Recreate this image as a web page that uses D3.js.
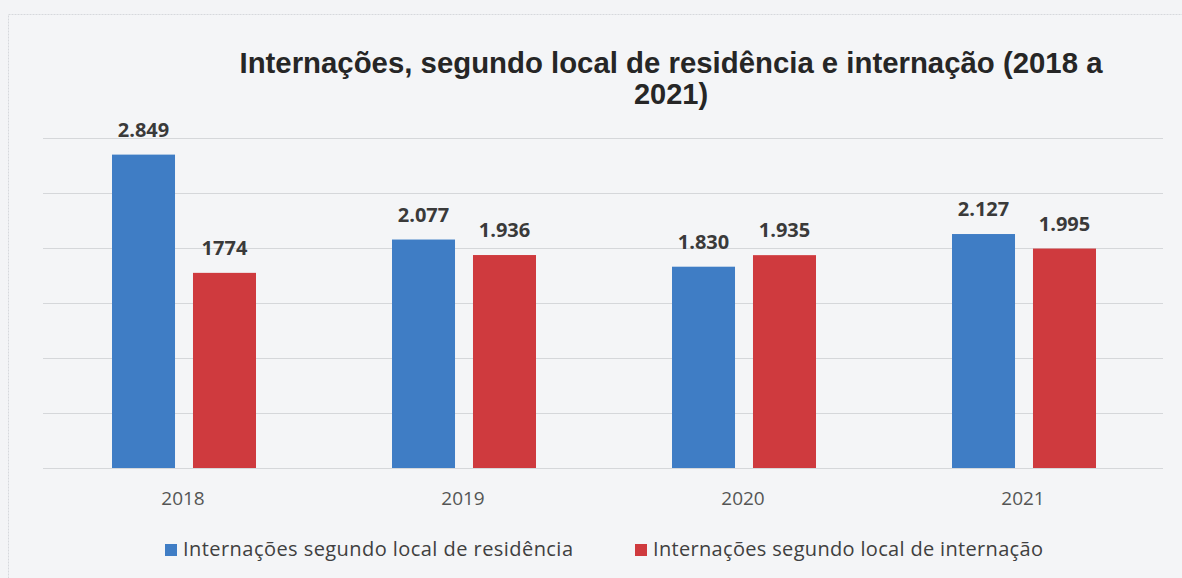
<!DOCTYPE html>
<html>
<head>
<meta charset="utf-8">
<script src="https://cdn.jsdelivr.net/npm/d3@7"></script>
<style>
  html, body { margin: 0; padding: 0; background: #f3f4f6; }
  svg { display: block; }
</style>
</head>
<body>
<div id="chart"></div>
<script>
var years = ['2018', '2019', '2020', '2021'];
var residencia = [2849, 2077, 1830, 2127];
var internacao = [1774, 1936, 1935, 1995];
var residenciaLabels = ['2.849', '2.077', '1.830', '2.127'];
var internacaoLabels = ['1774', '1.936', '1.935', '1.995'];
var seriesNames = ['Internações segundo local de residência', 'Internações segundo local de internação'];
var yTicks = [0, 500, 1000, 1500, 2000, 2500, 3000];

var W = 1182, H = 578;
var m = { left: 43, right: 19, top: 138, bottom: 110 };
var w = W - m.left - m.right, h = H - m.top - m.bottom;
var colors = ['#3f7dc5', '#cf3a3e'];

var svg = d3.select('#chart').append('svg')
  .attr('width', W)
  .attr('height', H);

// scanned page frame
svg.append('rect')
  .attr('x', 8.5).attr('y', 14.5)
  .attr('width', W - 8).attr('height', H)
  .attr('fill', '#f4f5f7')
  .attr('stroke', '#d6d8dc')
  .attr('stroke-dasharray', '2,1');

var g = svg.append('g')
  .attr('transform', 'translate(' + m.left + ',' + m.top + ')');

var xScale = d3.scaleBand().domain(years).range([0, w]);
var yScale = d3.scaleLinear().domain([0, 3000]).range([h, 0]);
var inner = d3.scaleBand().domain([0, 1]).range([0, 144]).paddingInner(0.222);

// gridlines
g.append('g')
  .attr('class', 'grid')
  .call(d3.axisLeft(yScale).tickValues(yTicks).tickSize(-w).tickFormat(''))
  .call(function (s) {
    s.select('.domain').remove();
    s.selectAll('line').attr('stroke', '#d5d7da').attr('stroke-width', 1);
  });

var series = [residencia, internacao];
var labels = [residenciaLabels, internacaoLabels];

function barX(i, si) {
  return xScale(years[i]) + xScale.bandwidth() / 2 - 71 + inner(si);
}

series.forEach(function (vals, si) {
  var grp = g.append('g');
  grp.selectAll('rect')
    .data(vals)
    .enter().append('rect')
    .attr('x', function (d, i) { return barX(i, si); })
    .attr('y', function (d) { return yScale(d); })
    .attr('width', inner.bandwidth())
    .attr('height', function (d) { return h - yScale(d); })
    .attr('fill', colors[si]);

  grp.selectAll('text')
    .data(vals)
    .enter().append('text')
    .attr('x', function (d, i) { return barX(i, si) + inner.bandwidth() / 2; })
    .attr('y', function (d) { return yScale(d) - 18; })
    .attr('text-anchor', 'middle')
    .attr('font-family', 'Open Sans, sans-serif')
    .attr('font-weight', 'bold')
    .attr('font-size', 20)
    .attr('fill', '#3a3a3a')
    .text(function (d, i) { return labels[si][i]; });
});

// x axis labels
g.append('g')
  .attr('transform', 'translate(0,' + h + ')')
  .call(d3.axisBottom(xScale).tickSize(0).tickPadding(24))
  .call(function (s) {
    s.select('.domain').remove();
    s.selectAll('text')
      .attr('font-family', 'Open Sans, sans-serif')
      .attr('font-size', 19)
      .attr('fill', '#555');
  });

// title
var title = svg.append('text')
  .attr('text-anchor', 'middle')
  .attr('font-family', 'Liberation Sans Narrow, Liberation Sans, Arial, sans-serif')
  .attr('font-weight', 'bold')
  .attr('font-size', 29)
  .attr('fill', '#262626');
title.append('tspan')
  .attr('x', 671).attr('y', 73)
  .attr('textLength', 863)
  .attr('lengthAdjust', 'spacingAndGlyphs')
  .text('Internações, segundo local de residência e internação (2018 a');
title.append('tspan')
  .attr('x', 671).attr('y', 104)
  .text('2021)');

// legend
var legendX = [165, 635];
var legend = svg.append('g').attr('transform', 'translate(0,556)');
seriesNames.forEach(function (name, i) {
  legend.append('rect')
    .attr('x', legendX[i]).attr('y', -12)
    .attr('width', 12).attr('height', 12)
    .attr('fill', colors[i]);
  legend.append('text')
    .attr('x', legendX[i] + 18).attr('y', 0)
    .attr('font-family', 'Open Sans, sans-serif')
    .attr('font-size', 20)
    .attr('textLength', 390)
    .attr('lengthAdjust', 'spacing')
    .attr('fill', '#404040')
    .text(name);
});
</script>
</body>
</html>
